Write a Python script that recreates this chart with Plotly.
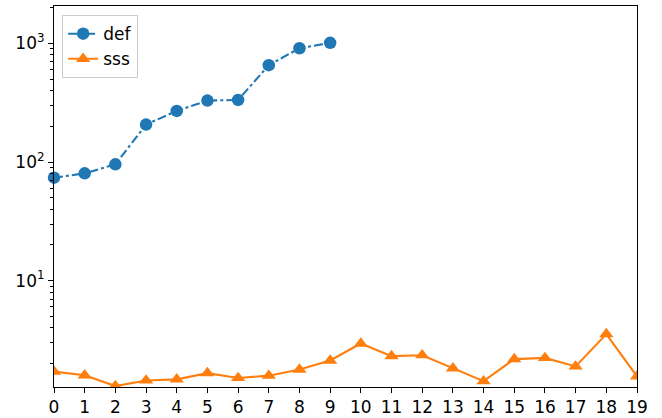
import plotly.graph_objects as go

# Series data
def_x = list(range(10))
def_y = [73.8, 80.3, 95.7, 207, 270, 330, 334, 656, 912, 1012]

sss_x = list(range(20))
sss_y = [1.71, 1.59, 1.29, 1.44, 1.47, 1.66, 1.51, 1.58, 1.78, 2.12,
         2.95, 2.31, 2.35, 1.82, 1.42, 2.18, 2.23, 1.89, 3.54, 1.56]

x_ticks = list(range(20))
y_major = [10, 100, 1000]
y_major_text = ["10<sup>1</sup>", "10<sup>2</sup>", "10<sup>3</sup>"]
y_minor = [m * 10 ** e for e in range(0, 4) for m in range(2, 10)]

blue = "#1f77b4"
orange = "#ff7f0e"

fig = go.Figure()
fig.add_trace(go.Scatter(
    x=def_x, y=def_y, name="def", mode="lines+markers",
    line=dict(color=blue, width=2.1, dash="dashdot"),
    marker=dict(symbol="circle", size=12.5, color=blue),
    cliponaxis=False,
))
fig.add_trace(go.Scatter(
    x=sss_x, y=sss_y, name="sss", mode="lines+markers",
    line=dict(color=orange, width=2.1),
    marker=dict(symbol="triangle-up", size=12.5, color=orange),
    cliponaxis=True,
))

axis_common = dict(
    showgrid=False, zeroline=False, showline=True, linecolor="black",
    linewidth=1.1, mirror=True, ticks="outside", ticklen=5, tickwidth=1.1,
    tickcolor="black", automargin=False,
    tickfont=dict(family="DejaVu Sans", size=17, color="black"),
)

fig.update_xaxes(
    range=[0, 19], tickmode="array", tickvals=x_ticks,
    ticktext=[str(t) for t in x_ticks], **axis_common,
)
fig.update_yaxes(
    type="log", range=[0.103, 3.316], tickmode="array", tickvals=y_major,
    ticktext=y_major_text,
    minor=dict(tickmode="array", tickvals=y_minor, ticks="outside",
               ticklen=3, tickwidth=0.8, tickcolor="black"),
    **axis_common,
)

fig.update_layout(
    width=662, height=418,
    margin=dict(l=54, r=25, t=6, b=31),
    paper_bgcolor="white", plot_bgcolor="white",
    font=dict(family="DejaVu Sans", size=17, color="black"),
    showlegend=True,
    legend=dict(
        x=0.014, y=0.976, xanchor="left", yanchor="top",
        bgcolor="rgba(255,255,255,0.8)", bordercolor="#cccccc", borderwidth=1,
        font=dict(family="DejaVu Sans", size=17, color="black"),
        tracegroupgap=0, itemwidth=30,
    ),
)

fig.write_html("out.html")
